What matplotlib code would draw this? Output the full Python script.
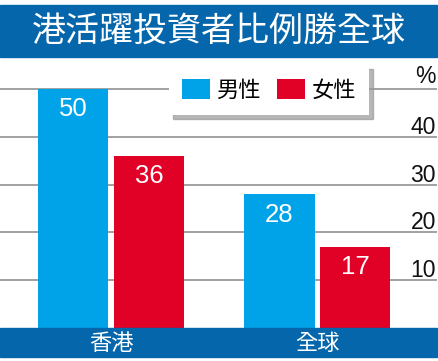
import matplotlib
matplotlib.use("Agg")
import matplotlib.pyplot as plt
import matplotlib.patches as mpatches
import matplotlib.transforms as mtransforms
import numpy as np

# ---- data ----
title = "港活躍投資者比例勝全球"
categories = ["香港", "全球"]
series_names = ["男性", "女性"]
male = [50, 28]
female = [36, 17]
ytick_values = [10, 20, 30, 40, 50]
ytick_labels = ["10", "20", "30", "40", "%"]

# ---- style ----
BLUE_BAND = "#0566AB"
BAR_BLUE = "#00A3E8"
BAR_RED = "#E10026"
GRID = "#9a9a9a"
CJK = ["Noto Sans CJK TC", "DejaVu Sans"]
NUM = ["Liberation Sans", "DejaVu Sans"]

W, H = 439, 361
fig = plt.figure(figsize=(W / 100, H / 100), dpi=100)
fig.patch.set_facecolor("white")

# axes: x from px 0..437, y from px 60..328
ax = fig.add_axes([0, (H - 328) / H, 437 / W, (328 - 60) / H])
ax.set_facecolor("none")
for s in ax.spines.values():
    s.set_visible(False)

x = np.arange(len(categories))
width = 0.339
off = 0.184
b1 = ax.bar(x - off, male, width, color=BAR_BLUE, zorder=3, label=series_names[0])
b2 = ax.bar(x + off, female, width, color=BAR_RED, zorder=3, label=series_names[1])

ax.set_xlim(-0.5375, 1.5787)
ax.set_ylim(0, 56.07)

# gridlines
for v in ytick_values:
    ax.axhline(v, color=GRID, lw=1.3, zorder=1)

ax.set_yticks([])
ax.set_xticks([])

# y labels on right, above lines
ytr = ax.get_yaxis_transform()
for v, lab in zip(ytick_values, ytick_labels):
    dy = 6 if lab == "%" else 3
    ax.annotate(lab, xy=(436 / 437, v), xycoords=ytr, xytext=(0, dy * 0.72),
                textcoords="offset points", ha="right", va="baseline",
                fontsize=16.5, family=NUM, color="#111111", zorder=5)

# value labels
for bars in (b1, b2):
    for r in bars:
        h = r.get_height()
        ax.annotate(f"{h:g}", xy=(r.get_x() + r.get_width() / 2, h),
                    xytext=(0, -6), textcoords="offset points",
                    ha="center", va="top", color="white", fontsize=18.5,
                    family=NUM, zorder=6)

# bottom band with category labels
fig.add_artist(mpatches.Rectangle((0, (H - 357) / H), 437 / W, 29 / H,
                                  transform=fig.transFigure, color=BLUE_BAND, zorder=10))
btr = mtransforms.blended_transform_factory(ax.transData, fig.transFigure)
for xi, c in zip(x, categories):
    fig.text(xi, (H - 343) / H, c, transform=btr, ha="center", va="center",
             color="white", fontsize=16, family=CJK, zorder=11)

# title band
fig.add_artist(mpatches.Rectangle((0, (H - 57) / H), 437 / W, 52 / H,
                                  transform=fig.transFigure, color=BLUE_BAND, zorder=10))
fig.text(219 / W, (H - 31) / H, title, ha="center", va="center", color="white",
         fontsize=24.5, family=CJK, zorder=11)

# legend
leg = ax.legend(handles=[b1, b2], labels=series_names, ncol=2,
                loc="center", bbox_to_anchor=(269 / W, 1 - 90 / H),
                bbox_transform=fig.transFigure,
                prop={"family": CJK, "size": 16},
                frameon=True, fancybox=False, facecolor="white", edgecolor="none",
                framealpha=1, shadow={"ox": 3, "oy": -3, "color": "#999999", "alpha": 0.7},
                handlelength=1.27, handleheight=1.0, handletextpad=0.27,
                columnspacing=0.73, borderpad=0.6, borderaxespad=0)
leg.set_zorder(8)

fig.savefig("out.png", dpi=100)
